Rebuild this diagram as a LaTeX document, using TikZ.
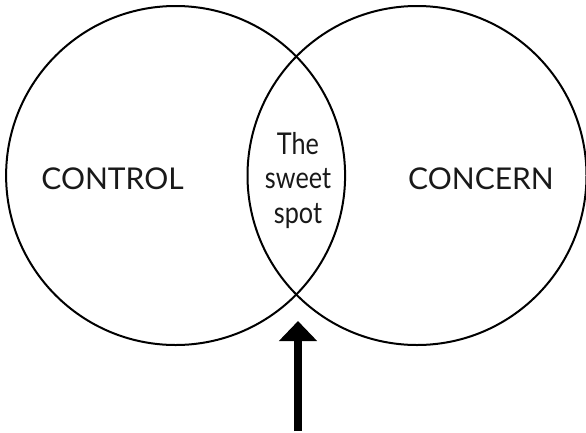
\documentclass[tikz,border=0pt]{standalone}
\usepackage{fontspec}
\setmainfont{Lato}
\newfontfamily\narrowlato[FakeStretch=0.84]{Lato}
\usetikzlibrary{arrows.meta}
\begin{document}
\begin{tikzpicture}[x=1pt,y=-1pt,
  ring/.style={draw=black,line width=2pt},
  lbl/.style={font=\fontsize{30}{34.5}\selectfont,text=black!90,inner sep=0pt,anchor=base,align=center},
  pointer/.style={line width=8pt,-{Triangle[width=37pt,length=20pt]}}]
\useasboundingbox (0,0) rectangle (586,432);
\draw[ring] (175.6,175.5) circle[radius=169.5];
\draw[ring] (417,175.5) circle[radius=169.5];
\node[lbl] (control) at (112.5,189) {CONTROL};
\node[lbl] (concern) at (481,189) {CONCERN};
\node[lbl,font=\narrowlato\fontsize{30}{34.5}\selectfont] (sweet) at (298,223) {The\\sweet\\spot};
\coordinate (tail) at (298,431);
\coordinate (tip) at (298,321);
\draw[pointer] (tail) -- (tip);
\end{tikzpicture}
\end{document}
